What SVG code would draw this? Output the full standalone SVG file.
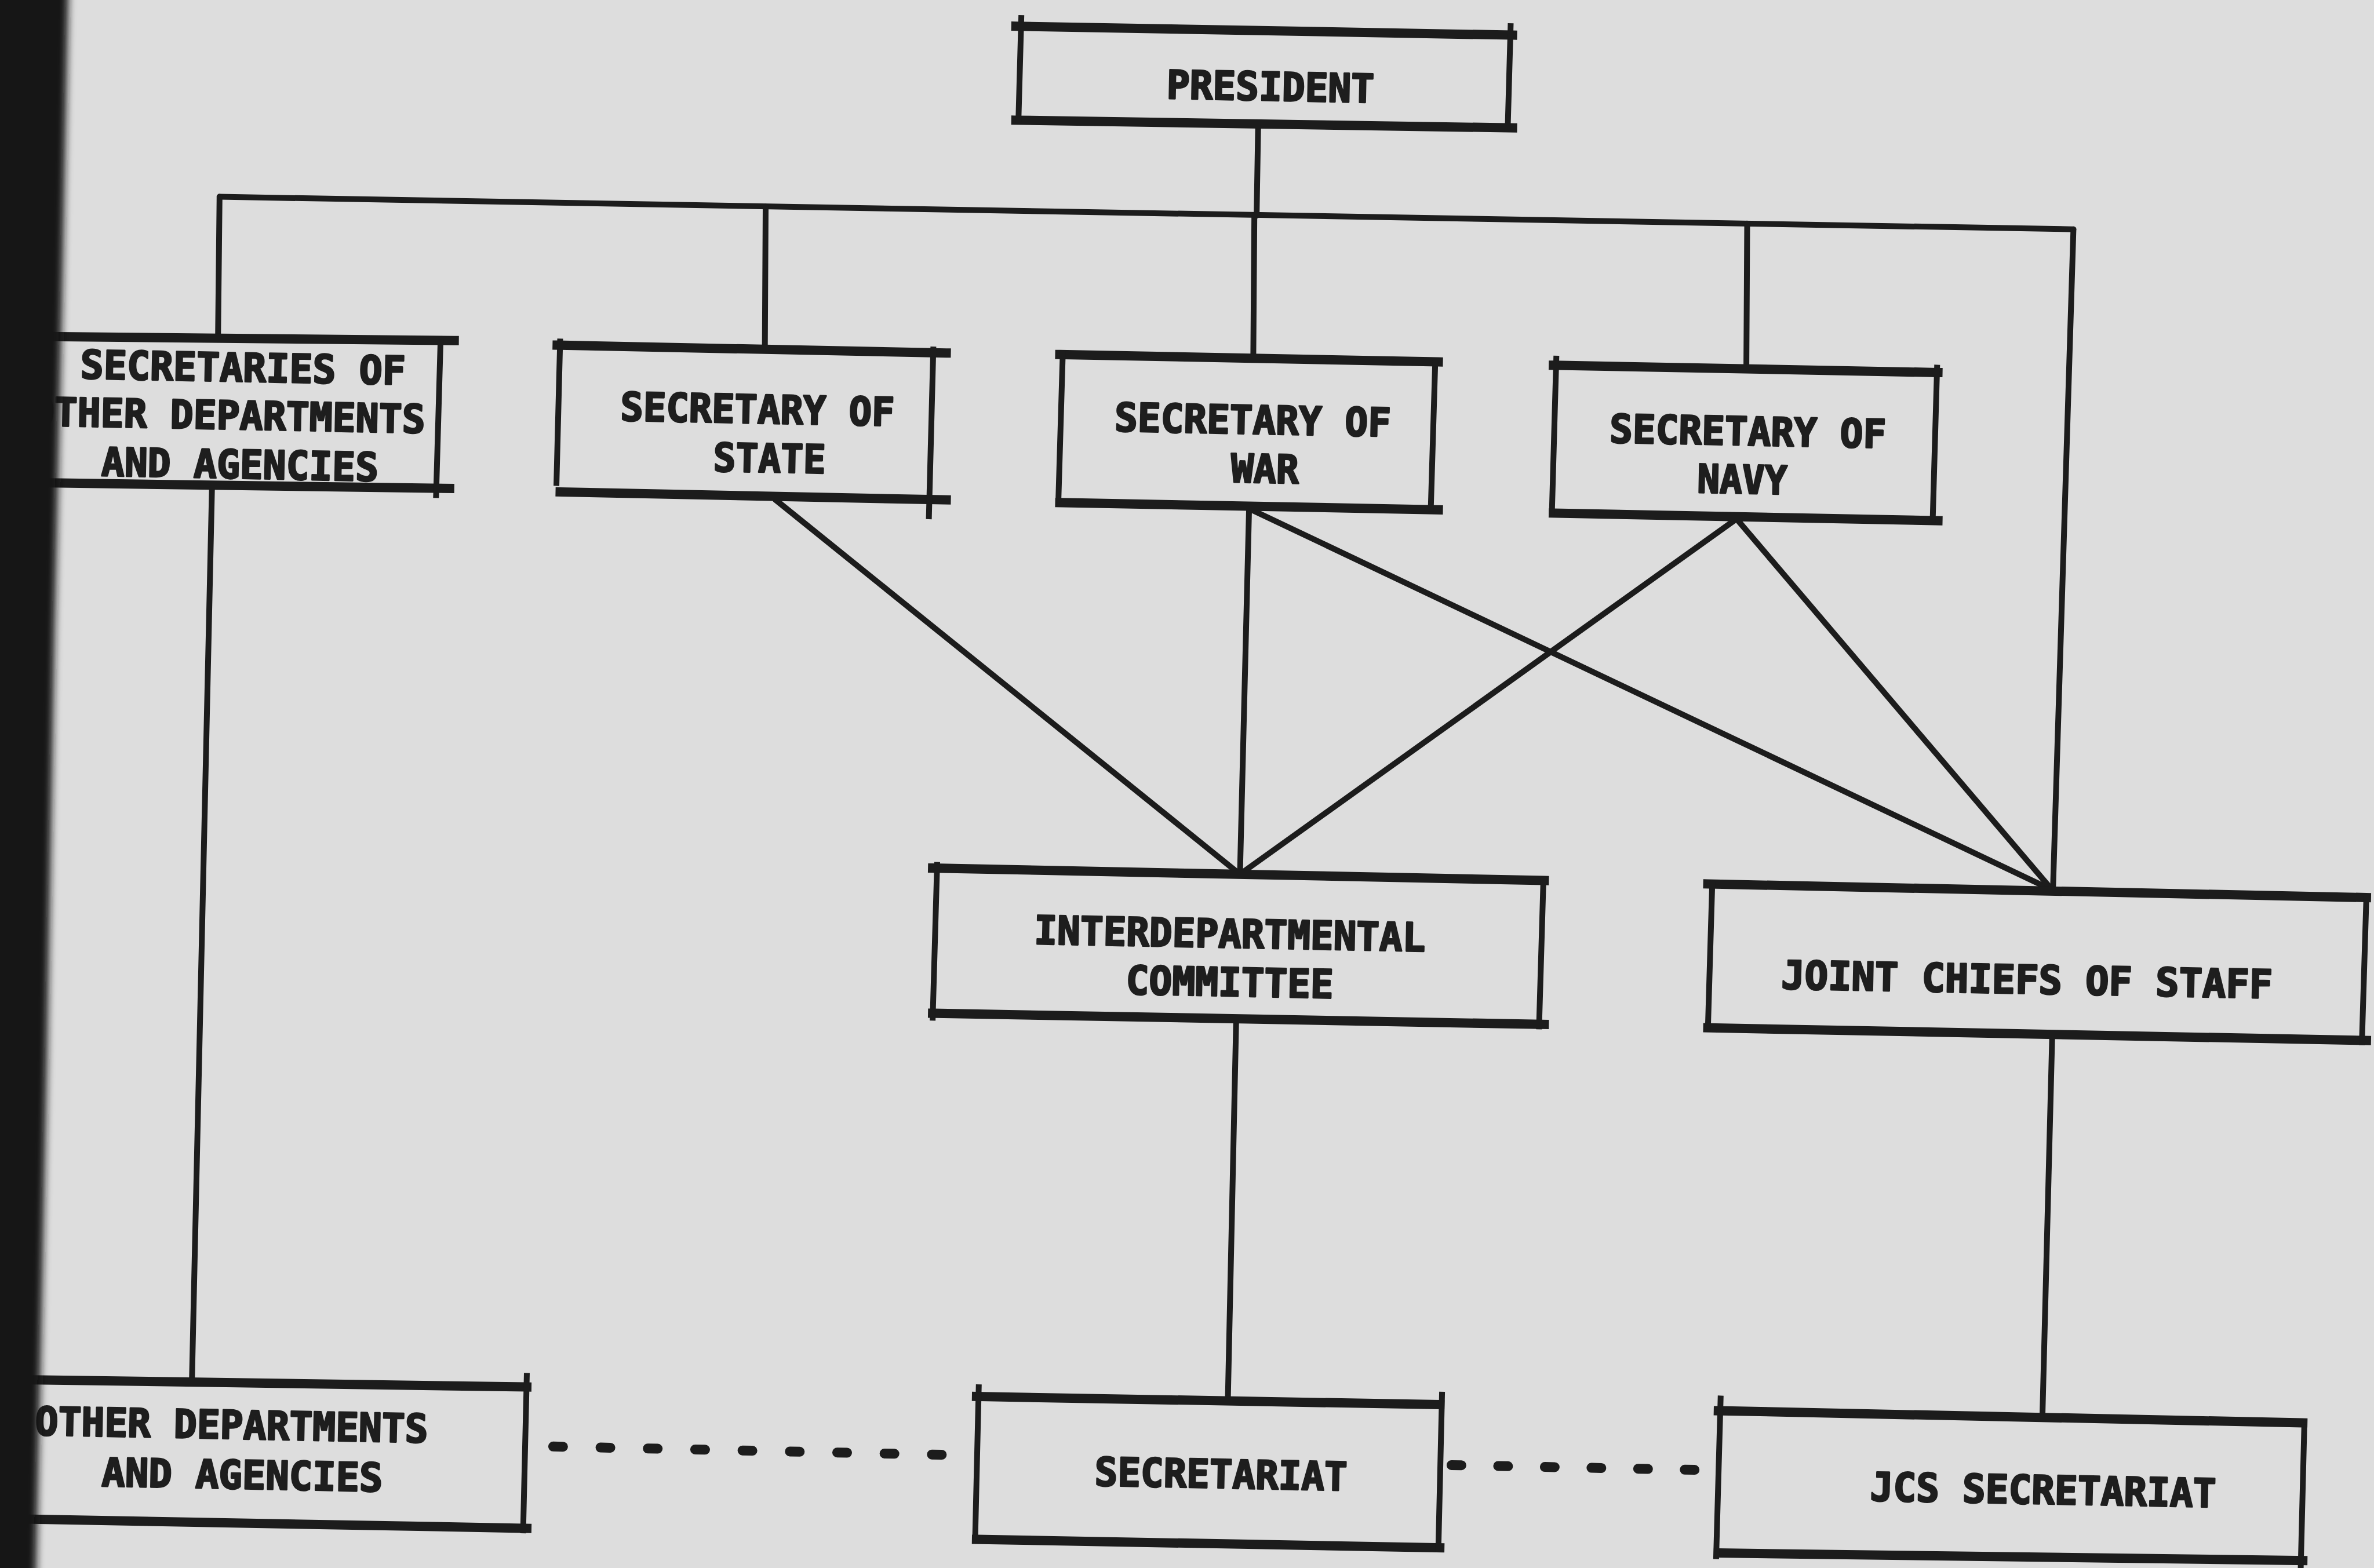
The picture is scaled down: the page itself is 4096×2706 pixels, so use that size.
<svg xmlns="http://www.w3.org/2000/svg" width="4096" height="2706" viewBox="0 0 4096 2706">
<style>
.bh{stroke:#1c1c1c;stroke-width:16;stroke-linecap:square;fill:none}
.bv{stroke:#1c1c1c;stroke-width:10;stroke-linecap:butt;fill:none}
.cn{stroke:#1c1c1c;stroke-width:10;stroke-linecap:round;fill:none}
.dot{stroke:#1c1c1c;stroke-width:17;stroke-linecap:round;fill:none}
.t{font-family:"DejaVu Sans Mono","Liberation Mono",monospace;font-weight:bold;font-size:68px;fill:#1e1e1e;stroke:#1e1e1e;stroke-width:3;stroke-linejoin:round;text-anchor:middle}
</style>
<defs>
<filter id="soft" x="-50%" y="-5%" width="200%" height="110%"><feGaussianBlur stdDeviation="7"/></filter>
</defs>
<rect x="0" y="0" width="4096" height="2706" fill="#dddddd"/>

<g id="connectors">
<path class="cn" d="M2170.7,219.4 L2168.1,372.2"/>
<path class="cn" d="M378.8,339.6 L3577.4,395.7"/>
<path class="cn" d="M378.8,339.6 L376.2,579.9"/>
<path class="cn" d="M1321,356.6 L1319.7,595.6"/>
<path class="cn" d="M2164.2,370.9 L2162.4,612.8"/>
<path class="cn" d="M3014.5,385.8 L3013.1,633.2"/>
<path class="cn" d="M3577.4,395.7 L3542.1,1536"/>
<path class="cn" d="M365.7,843.7 L331.2,2381"/>
<path class="cn" d="M1337.4,862 L2139.4,1508.8"/>
<path class="cn" d="M2155.1,877.7 L2139.4,1508.8"/>
<path class="cn" d="M2155.1,877.7 L3540.8,1536"/>
<path class="cn" d="M2991.7,898.6 L2139.4,1508.8"/>
<path class="cn" d="M2998.8,898.6 L3540.8,1536"/>
<path class="cn" d="M2132.9,1758 L2118.5,2416.3"/>
<path class="cn" d="M3540.8,1786.7 L3523.9,2445"/>
<path class="dot" stroke-dasharray="17 64.7" d="M954.4,2496.3 L1624.9,2510.5"/>
<path class="dot" stroke-dasharray="17 63.5" d="M2504.4,2528.4 L2923.7,2536.6"/>
</g>

<g id="president">
<path class="bh" d="M1752.8,45.2 L2609.6,60.6 M1752.8,207.4 L2609.6,220.7"/>
<path class="bv" d="M1762.2,26.1 L1757,214.2 M2606.5,40.2 L2601.2,227.3"/>
<text class="t" x="2192" y="173.5" textLength="358" lengthAdjust="spacingAndGlyphs" transform="rotate(1.1 2192 148.5)">PRESIDENT</text>
</g>

<g id="secretaries-other">
<path class="bh" d="M-13,579.9 L783.7,587.7 M-13,831.9 L775.8,843"/>
<path class="bv" d="M36.6,574.7 L28.7,838.5 M760.2,585.1 L752.3,859.4"/>
<text class="t" x="419.3" y="658.5" textLength="561" lengthAdjust="spacingAndGlyphs" transform="rotate(1.1 419.3 633.5)">SECRETARIES OF</text>
<text class="t" x="393.8" y="740.7" textLength="680" lengthAdjust="spacingAndGlyphs" transform="rotate(1.1 393.8 715.7)">OTHER DEPARTMENTS</text>
<text class="t" x="414" y="825.6" textLength="478" lengthAdjust="spacingAndGlyphs" transform="rotate(1.1 414 800.6)">AND AGENCIES</text>
</g>

<g id="sec-state">
<path class="bh" d="M961.3,595.6 L1632.6,609.2 M966.5,849 L1632.6,862.6"/>
<path class="bv" d="M966.5,584.4 L960,838.5 M1610.4,598.2 L1602.6,896"/>
<text class="t" x="1307" y="730.4" textLength="473" lengthAdjust="spacingAndGlyphs" transform="rotate(1.1 1307 705.4)">SECRETARY OF</text>
<text class="t" x="1327.8" y="815" textLength="194" lengthAdjust="spacingAndGlyphs" transform="rotate(1.1 1327.8 790)">STATE</text>
</g>

<g id="sec-war">
<path class="bh" d="M1828.5,611.8 L2481.6,624.6 M1828.5,867.3 L2481.6,879.8"/>
<path class="bv" d="M1833.8,605.2 L1826,867.3 M2476.4,621.2 L2468.5,882.9"/>
<text class="t" x="2161.6" y="748.7" textLength="477" lengthAdjust="spacingAndGlyphs" transform="rotate(1.1 2161.6 723.7)">SECRETARY OF</text>
<text class="t" x="2182.5" y="833.2" textLength="117" lengthAdjust="spacingAndGlyphs" transform="rotate(1.1 2182.5 808.2)">WAR</text>
</g>

<g id="sec-navy">
<path class="bh" d="M2680.1,630.3 L3343.6,642.9 M2680.1,885.5 L3343.6,898.6"/>
<path class="bv" d="M2685.3,613.9 L2677.5,888.2 M3342.3,629.5 L3334.5,901.2"/>
<text class="t" x="3015.8" y="768.4" textLength="477" lengthAdjust="spacingAndGlyphs" transform="rotate(1.1 3015.8 743.4)">SECRETARY OF</text>
<text class="t" x="3006" y="851.5" textLength="155" lengthAdjust="spacingAndGlyphs" transform="rotate(1.1 3006 826.5)">NAVY</text>
</g>

<g id="interdepartmental-committee">
<path class="bh" d="M1609.1,1498.1 L2664.4,1519.5 M1609.1,1748.6 L2664.4,1767.9"/>
<path class="bv" d="M1617,1487.6 L1609.1,1761.4 M2663.1,1512.5 L2655.3,1776.3"/>
<text class="t" x="2122" y="1635.4" textLength="675" lengthAdjust="spacingAndGlyphs" transform="rotate(1.1 2122 1610.4)">INTERDEPARTMENTAL</text>
<text class="t" x="2121.8" y="1719" textLength="358" lengthAdjust="spacingAndGlyphs" transform="rotate(1.1 2121.8 1694)">COMMITTEE</text>
</g>

<g id="joint-chiefs">
<path class="bh" d="M2946.6,1525.5 L4082.9,1549 M2946.6,1773.7 L4082.9,1795.6"/>
<path class="bv" d="M2954.4,1519.2 L2946.6,1780.5 M4082.9,1546.4 L4075,1803.7"/>
<text class="t" x="3497.3" y="1714.6" textLength="848" lengthAdjust="spacingAndGlyphs" transform="rotate(1.1 3497.3 1689.6)">JOINT CHIEFS OF STAFF</text>
</g>

<g id="other-departments">
<path class="bh" d="M-13,2380.2 L909,2393.6 M-13,2620.6 L909,2637.5"/>
<path class="bv" d="M20.9,2374.5 L13,2625.3 M909,2369.3 L902.5,2646.2"/>
<text class="t" x="399.7" y="2483" textLength="678" lengthAdjust="spacingAndGlyphs" transform="rotate(1.1 399.7 2458)">OTHER DEPARTMENTS</text>
<text class="t" x="418" y="2569.3" textLength="485" lengthAdjust="spacingAndGlyphs" transform="rotate(1.1 418 2544.3)">AND AGENCIES</text>
</g>

<g id="secretariat">
<path class="bh" d="M1684.9,2410 L2484.2,2424.1 M1684.9,2656.6 L2484.2,2671"/>
<path class="bv" d="M1688.8,2389.1 L1682.3,2663.1 M2488.1,2401.9 L2481.6,2677.5"/>
<text class="t" x="2106.7" y="2568" textLength="436" lengthAdjust="spacingAndGlyphs" transform="rotate(1.1 2106.7 2543)">SECRETARIAT</text>
</g>

<g id="jcs-secretariat">
<path class="bh" d="M2964.8,2434.6 L3973.2,2455.5 M2964.8,2680.1 L3973.2,2693.2"/>
<path class="bv" d="M2968.8,2408.5 L2960.9,2690.6 M3975.8,2458.1 L3969.3,2716.7"/>
<text class="t" x="3525.2" y="2595.4" textLength="597" lengthAdjust="spacingAndGlyphs" transform="rotate(1.1 3525.2 2570.4)">JCS SECRETARIAT</text>
</g>

<polygon points="-20,-20 118,-20 107,522 94,1097 81,1828 62,2730 -20,2730" fill="#121212" filter="url(#soft)"/>
</svg>
